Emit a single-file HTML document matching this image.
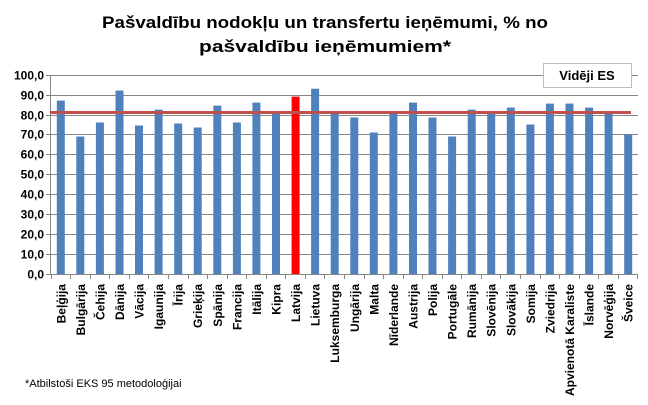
<!DOCTYPE html>
<html><head><meta charset="utf-8"><style>body{margin:0;background:#fff}svg{display:block}</style></head>
<body>
<svg width="648" height="405" xmlns="http://www.w3.org/2000/svg" font-family="Liberation Sans, sans-serif">
<rect width="648" height="405" fill="#fff"/>
<text x="325" y="28" font-size="17" font-weight="bold" text-anchor="middle" textLength="446" lengthAdjust="spacingAndGlyphs">Pašvaldību nodokļu un transfertu ieņēmumi, % no</text>
<text x="325" y="52" font-size="17" font-weight="bold" text-anchor="middle" textLength="252" lengthAdjust="spacingAndGlyphs">pašvaldību ieņēmumiem*</text>
<g stroke="#868686" stroke-width="1">
<line x1="46" x2="638" y1="274.5" y2="274.5"/>
<line x1="46" x2="638" y1="254.5" y2="254.5"/>
<line x1="46" x2="638" y1="234.5" y2="234.5"/>
<line x1="46" x2="638" y1="214.5" y2="214.5"/>
<line x1="46" x2="638" y1="194.5" y2="194.5"/>
<line x1="46" x2="638" y1="174.5" y2="174.5"/>
<line x1="46" x2="638" y1="154.5" y2="154.5"/>
<line x1="46" x2="638" y1="134.5" y2="134.5"/>
<line x1="46" x2="638" y1="115.5" y2="115.5"/>
<line x1="46" x2="638" y1="95.5" y2="95.5"/>
<line x1="46" x2="638" y1="75.5" y2="75.5"/>
<line x1="50.5" x2="50.5" y1="75" y2="275"/>
<path d="M51.5 274v5M70.5 274v5M90.5 274v5M109.5 274v5M129.5 274v5M148.5 274v5M168.5 274v5M188.5 274v5M207.5 274v5M227.5 274v5M246.5 274v5M266.5 274v5M285.5 274v5M305.5 274v5M324.5 274v5M344.5 274v5M364.5 274v5M383.5 274v5M403.5 274v5M422.5 274v5M442.5 274v5M461.5 274v5M481.5 274v5M500.5 274v5M520.5 274v5M540.5 274v5M559.5 274v5M579.5 274v5M598.5 274v5M618.5 274v5M637.5 274v5"/>
</g>
<g font-size="12" font-weight="bold" text-anchor="end">
<text x="44" y="278.5">0,0</text><text x="44" y="258.5">10,0</text><text x="44" y="238.5">20,0</text><text x="44" y="218.5">30,0</text><text x="44" y="198.5">40,0</text><text x="44" y="178.5">50,0</text><text x="44" y="158.5">60,0</text><text x="44" y="138.5">70,0</text><text x="44" y="119.5">80,0</text><text x="44" y="99.5">90,0</text><text x="44" y="79.5">100,0</text>
</g>
<g fill="#4f81bd">
<rect x="56.8" y="100.6" width="8" height="173.4"/>
<rect x="76.3" y="136.5" width="8" height="137.5"/>
<rect x="95.9" y="122.5" width="8" height="151.5"/>
<rect x="115.5" y="90.6" width="8" height="183.4"/>
<rect x="135" y="125.5" width="8" height="148.5"/>
<rect x="154.6" y="109.6" width="8" height="164.4"/>
<rect x="174.2" y="123.5" width="8" height="150.5"/>
<rect x="193.7" y="127.5" width="8" height="146.5"/>
<rect x="213.3" y="105.6" width="8" height="168.4"/>
<rect x="232.9" y="122.5" width="8" height="151.5"/>
<rect x="252.4" y="102.6" width="8" height="171.4"/>
<rect x="272" y="113.6" width="8" height="160.4"/>
<rect x="291.6" y="96.6" width="8" height="177.4" fill="#ff0000"/>
<rect x="311.1" y="88.7" width="8" height="185.3"/>
<rect x="330.7" y="113.6" width="8" height="160.4"/>
<rect x="350.3" y="117.5" width="8" height="156.5"/>
<rect x="369.8" y="132.5" width="8" height="141.5"/>
<rect x="389.4" y="113.6" width="8" height="160.4"/>
<rect x="409" y="102.6" width="8" height="171.4"/>
<rect x="428.5" y="117.5" width="8" height="156.5"/>
<rect x="448.1" y="136.5" width="8" height="137.5"/>
<rect x="467.7" y="109.6" width="8" height="164.4"/>
<rect x="487.2" y="113.6" width="8" height="160.4"/>
<rect x="506.8" y="107.6" width="8" height="166.4"/>
<rect x="526.4" y="124.5" width="8" height="149.5"/>
<rect x="545.9" y="103.6" width="8" height="170.4"/>
<rect x="565.5" y="103.6" width="8" height="170.4"/>
<rect x="585.1" y="107.6" width="8" height="166.4"/>
<rect x="604.6" y="113.6" width="8" height="160.4"/>
<rect x="624.2" y="134.5" width="8" height="139.5"/>
</g>
<line x1="50" x2="631" y1="112.5" y2="112.5" stroke="#c0504d" stroke-width="3"/>
<g font-size="12" font-weight="bold" text-anchor="end">
<text transform="translate(65.3,284) rotate(-90)">Beļģija</text>
<text transform="translate(84.8,284) rotate(-90)">Bulgārija</text>
<text transform="translate(104.4,284) rotate(-90)">Čehija</text>
<text transform="translate(124,284) rotate(-90)">Dānija</text>
<text transform="translate(143.5,284) rotate(-90)">Vācija</text>
<text transform="translate(163.1,284) rotate(-90)">Igaunija</text>
<text transform="translate(182.7,284) rotate(-90)">Īrija</text>
<text transform="translate(202.2,284) rotate(-90)">Grieķija</text>
<text transform="translate(221.8,284) rotate(-90)">Spānija</text>
<text transform="translate(241.4,284) rotate(-90)">Francija</text>
<text transform="translate(260.9,284) rotate(-90)">Itālija</text>
<text transform="translate(280.5,284) rotate(-90)">Kipra</text>
<text transform="translate(300.1,284) rotate(-90)">Latvija</text>
<text transform="translate(319.6,284) rotate(-90)">Lietuva</text>
<text transform="translate(339.2,284) rotate(-90)">Luksemburga</text>
<text transform="translate(358.8,284) rotate(-90)">Ungārija</text>
<text transform="translate(378.3,284) rotate(-90)">Malta</text>
<text transform="translate(397.9,284) rotate(-90)">Nīderlande</text>
<text transform="translate(417.5,284) rotate(-90)">Austrija</text>
<text transform="translate(437,284) rotate(-90)">Polija</text>
<text transform="translate(456.6,284) rotate(-90)">Portugāle</text>
<text transform="translate(476.2,284) rotate(-90)">Rumānija</text>
<text transform="translate(495.7,284) rotate(-90)">Slovēnija</text>
<text transform="translate(515.3,284) rotate(-90)">Slovākija</text>
<text transform="translate(534.9,284) rotate(-90)">Somija</text>
<text transform="translate(554.4,284) rotate(-90)">Zviedrija</text>
<text transform="translate(574,284) rotate(-90)">Apvienotā Karaliste</text>
<text transform="translate(593.6,284) rotate(-90)">Īslande</text>
<text transform="translate(613.1,284) rotate(-90)">Norvēģija</text>
<text transform="translate(632.7,284) rotate(-90)">Šveice</text>
</g>
<rect x="543.5" y="63.5" width="88" height="24" fill="#fff" stroke="#bcbcbc"/>
<text x="587" y="80" font-size="13" font-weight="bold" text-anchor="middle">Vidēji ES</text>
<text x="25" y="387" font-size="11">*Atbilstoši EKS 95 metodoloģijai</text>
</svg>
</body></html>
